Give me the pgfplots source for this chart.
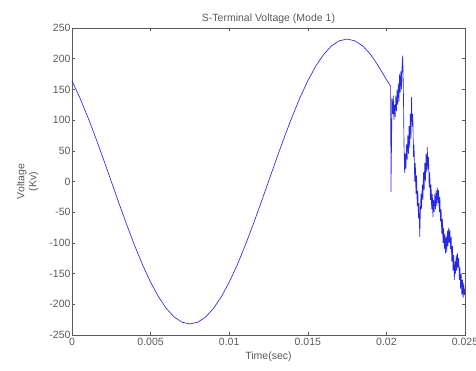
\documentclass[border=0pt]{standalone}
\usepackage{pgfplots}
\pgfplotsset{compat=1.18}
\usepackage{fontspec}
\setmainfont{Liberation Sans}
\definecolor{mlblue}{RGB}{40,40,225}
\definecolor{axgray}{RGB}{90,90,90}
\begin{document}
\begin{tikzpicture}
\begin{axis}[
  scale only axis, width=393pt, height=307pt,
  xmin=0, xmax=0.025, ymin=-250, ymax=250,
  xtick={0,0.005,0.01,0.015,0.02,0.025},
  xticklabels={0,0.005,0.01,0.015,0.02,0.025},
  scaled x ticks=false,
  ytick={-250,-200,-150,-100,-50,0,50,100,150,200,250},
  tick align=inside,
  major tick length=3pt,
  tick style={axgray, line width=0.6pt},
  axis line style={axgray, line width=0.8pt},
  tick label style={font=\fontsize{10.5}{12}\selectfont, text=axgray},
  /pgf/number format/assume math mode=true,
  yticklabel style={xshift=2pt},
  xticklabel style={yshift=0pt},
  title={S-Terminal Voltage (Mode 1)},
  title style={font=\fontsize{10.5}{12}\selectfont, text=axgray, yshift=-5pt},
  xlabel={Time(sec)},
  xlabel style={font=\fontsize{10.5}{12}\selectfont, text=axgray, yshift=1pt},
  ylabel={Voltage\\(Kv)},
  ylabel style={font=\fontsize{10.5}{12}\selectfont, text=axgray, align=center, yshift=4pt},
]
\coordinate (bl) at (rel axis cs:0,0);
\addplot[mlblue, line width=0.65pt] coordinates {
(0,164.0) (0.0005,136.4) (0.001,105.3) (0.0015,71.7) (0.002,36.3) (0.0025,0)
(0.003,-36.3) (0.0035,-71.7) (0.004,-105.3) (0.0045,-136.4) (0.005,-164.0)
(0.0055,-187.7) (0.006,-206.7) (0.0065,-220.7) (0.007,-229.1) (0.0075,-232)
(0.008,-229.1) (0.0085,-220.7) (0.009,-206.7) (0.0095,-187.7) (0.01,-164.0)
(0.0105,-136.4) (0.011,-105.3) (0.0115,-71.7) (0.012,-36.3) (0.0125,0)
(0.013,36.3) (0.0135,71.7) (0.014,105.3) (0.0145,136.4) (0.015,164.0)
(0.0155,187.7) (0.016,206.7) (0.0165,220.7) (0.017,229.1) (0.0175,232)
(0.018,229.1) (0.0185,220.7) (0.019,206.7) (0.0195,187.7) (0.02,166.0)
(0.02027,155)
(0.02029,-17) (0.02033,70) (0.02036,135) (0.0204,110) (0.02044,140) (0.02048,100)
(0.02052,125) (0.02056,105) (0.0206,140) (0.02064,115) (0.02068,150) (0.02072,125)
(0.02076,160) (0.0208,130) (0.02084,175) (0.02088,145) (0.02092,180) (0.02096,150)
(0.021,190) (0.02104,205) (0.02108,150) (0.02112,60) (0.02116,14) (0.0212,45)
(0.02124,20) (0.02128,60) (0.02132,35) (0.02136,75) (0.0214,45) (0.02144,90)
(0.02148,55) (0.02152,110) (0.02156,70) (0.0216,138) (0.02164,90) (0.02168,110)
(0.02172,40) (0.02176,60) (0.0218,0) (0.02184,30) (0.02188,-20) (0.02192,10)
(0.02196,-40) (0.022,-15) (0.02204,-60) (0.02208,-35) (0.02212,-90) (0.02216,-50)
(0.0222,-20) (0.02224,-45) (0.02228,-5) (0.02232,-30) (0.02236,15) (0.0224,-15)
(0.02244,30) (0.02248,0) (0.02252,45) (0.02256,15) (0.0226,56) (0.02264,20)
(0.02268,40) (0.02272,-10) (0.02276,15) (0.0228,-30) (0.02284,-5) (0.02288,-45)
(0.02292,-20) (0.02296,-58) (0.023,-30) (0.02304,-50) (0.02308,-20) (0.02312,-45)
(0.02316,-15) (0.0232,-40) (0.02324,-10) (0.02328,-35) (0.02332,-14) (0.02336,-50)
(0.0234,-25) (0.02344,-65) (0.02348,-45) (0.02352,-85) (0.02356,-60) (0.0236,-100)
(0.02364,-75) (0.02368,-110) (0.02372,-85) (0.02376,-117) (0.0238,-90) (0.02384,-115)
(0.02388,-80) (0.02392,-105) (0.02396,-75) (0.024,-100) (0.02404,-79) (0.02408,-110)
(0.02412,-90) (0.02416,-130) (0.0242,-105) (0.02424,-145) (0.02428,-120) (0.02432,-160)
(0.02436,-130) (0.0244,-150) (0.02444,-120) (0.02448,-145) (0.02452,-117) (0.02456,-140)
(0.0246,-125) (0.02464,-160) (0.02468,-140) (0.02472,-175) (0.02476,-150) (0.0248,-185)
(0.02484,-160) (0.02488,-190) (0.02492,-165) (0.02496,-185) (0.025,-175)
};
\end{axis}
\pgfresetboundingbox
\path[use as bounding box] (bl) ++(-72pt,-35pt) rectangle ++(476pt,370pt);
\end{tikzpicture}
\end{document}
